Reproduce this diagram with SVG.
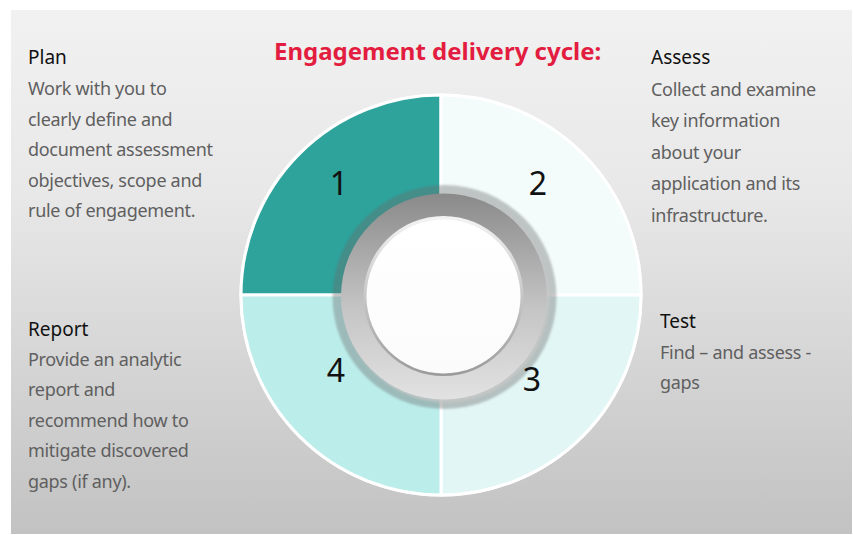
<svg xmlns="http://www.w3.org/2000/svg" width="853" height="535" viewBox="0 0 853 535">
<defs>
<linearGradient id="bg" x1="0" y1="0" x2="0" y2="1">
<stop offset="0" stop-color="#f1f1f1"/>
<stop offset="0.35" stop-color="#e8e8e8"/>
<stop offset="1" stop-color="#c2c2c2"/>
</linearGradient>
<linearGradient id="ring" x1="0" y1="0" x2="0" y2="1">
<stop offset="0" stop-color="#8a8a8a"/>
<stop offset="0.55" stop-color="#c4c4c4"/>
<stop offset="1" stop-color="#e2e2e2"/>
</linearGradient>
<linearGradient id="rim" x1="0" y1="0" x2="0" y2="1">
<stop offset="0" stop-color="#f4f4f4"/>
<stop offset="1" stop-color="#9a9a9a"/>
</linearGradient>
<linearGradient id="hole" x1="0" y1="0" x2="0" y2="1">
<stop offset="0" stop-color="#ffffff"/>
<stop offset="1" stop-color="#fbfbfb"/>
</linearGradient>
<filter id="blur" x="-20%" y="-20%" width="140%" height="140%">
<feGaussianBlur stdDeviation="1.2"/>
</filter>
<filter id="soft" x="-10%" y="-10%" width="120%" height="120%">
<feGaussianBlur stdDeviation="1.5"/>
</filter>
</defs>
<style>
.q{stroke:#ffffff;stroke-width:3}
.num{font-family:"Noto Sans","Open Sans",sans-serif;font-size:32px;fill:#111111;text-anchor:middle}
.hd{font-family:"Noto Sans","Open Sans",sans-serif;font-size:19px;fill:#111111}
.bd{font-family:"Noto Sans","Open Sans",sans-serif;font-size:18px;letter-spacing:-0.3px;fill:#5f5f5f}
.title{font-family:"Noto Sans","Open Sans",sans-serif;font-size:24px;font-weight:bold;fill:#e31d3f}
</style>
<rect x="11" y="10" width="841" height="524" fill="url(#bg)"/>
<text class="title" x="274" y="60">Engagement delivery cycle:</text>
<g id="cycle">
<circle cx="441" cy="295" r="201.5" fill="#ffffff" opacity="0.9"/>
<g id="q1"><path class="q" d="M441,295 L241,295 A200,200 0 0 1 441,95 Z" fill="#2da39c"/><text class="num" x="339" y="195">1</text></g>
<g id="q2"><path class="q" d="M441,295 L441,95 A200,200 0 0 1 641,295 Z" fill="#f3fbfb"/><text class="num" x="538" y="195">2</text></g>
<g id="q3"><path class="q" d="M441,295 L641,295 A200,200 0 0 1 441,495 Z" fill="#e2f6f5"/></g>
<g id="q4"><path class="q" d="M441,295 L441,495 A200,200 0 0 1 241,295 Z" fill="#bbedea"/><text class="num" x="336" y="382">4</text></g>
<g id="hub">
<circle cx="444.5" cy="297" r="112" fill="#6a6a6a" opacity="0.38" filter="url(#blur)"/>
<circle cx="446" cy="299" r="103" fill="#c8c8c8" opacity="0.9" filter="url(#soft)"/>
<circle cx="444" cy="296.5" r="103" fill="url(#ring)"/>
<circle cx="443.5" cy="296" r="80" fill="url(#rim)"/>
<circle cx="443.5" cy="296.5" r="77" fill="url(#hole)"/>
</g>
<text class="num" x="532" y="391">3</text>
</g>
<g id="plan">
<text class="hd" x="28" y="64">Plan</text>
<text class="bd" x="28" y="95">Work with you to</text>
<text class="bd" x="28" y="125.5">clearly define and</text>
<text class="bd" x="28" y="156">document assessment</text>
<text class="bd" x="28" y="186.5">objectives, scope and</text>
<text class="bd" x="28" y="217">rule of engagement.</text>
</g>
<g id="assess">
<text class="hd" x="651" y="64">Assess</text>
<text class="bd" x="651" y="95.5">Collect and examine</text>
<text class="bd" x="651" y="127">key information</text>
<text class="bd" x="651" y="158.5">about your</text>
<text class="bd" x="651" y="190">application and its</text>
<text class="bd" x="651" y="221.5">infrastructure.</text>
</g>
<g id="test">
<text class="hd" x="660" y="328">Test</text>
<text class="bd" x="660" y="358.5">Find – and assess -</text>
<text class="bd" x="660" y="389">gaps</text>
</g>
<g id="report">
<text class="hd" x="28" y="335.5">Report</text>
<text class="bd" x="28" y="365.5">Provide an analytic</text>
<text class="bd" x="28" y="396">report and</text>
<text class="bd" x="28" y="426.5">recommend how to</text>
<text class="bd" x="28" y="457">mitigate discovered</text>
<text class="bd" x="28" y="487.5">gaps (if any).</text>
</g>
</svg>
